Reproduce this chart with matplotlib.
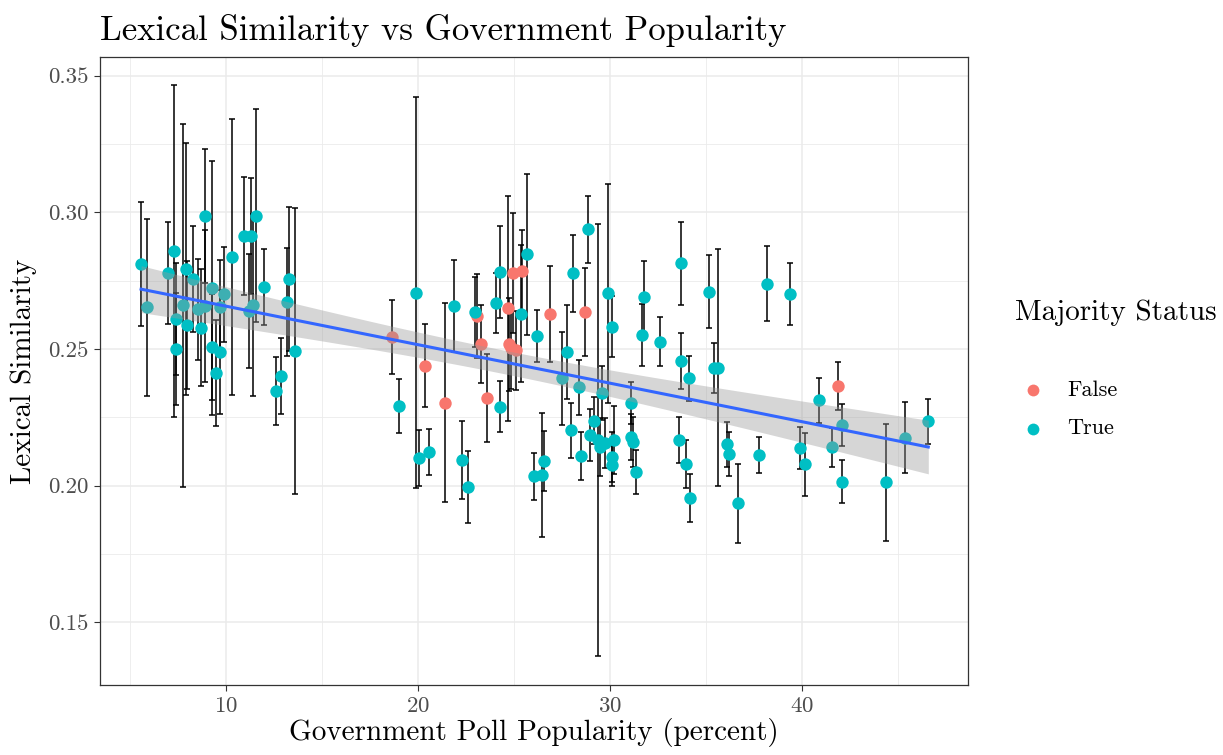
import numpy as np
import matplotlib
matplotlib.use("Agg")
import matplotlib.pyplot as plt
from matplotlib.ticker import MultipleLocator, FormatStrFormatter

plt.rcParams["font.family"] = ["cmr10", "DejaVu Serif"]
plt.rcParams["axes.formatter.use_mathtext"] = True

# poll popularity (percent), lexical similarity, error half-width, majority status
popularity = [
    5.57, 5.90, 6.99, 7.29, 7.38, 7.38, 7.77, 7.89, 7.98, 8.29,
    8.56, 8.68, 8.89, 8.89, 9.29, 9.29, 9.48, 9.69, 9.69, 9.90,
    10.29, 10.95, 11.30, 11.18, 11.39, 11.58, 11.98, 12.59, 12.88, 13.28,
    13.19, 13.60, 18.67, 19.00, 19.89, 20.07, 20.37, 20.58, 21.40, 21.88,
    22.28, 22.60, 22.99, 23.10, 23.29, 23.59, 24.09, 24.29, 24.29, 24.70,
    24.97, 25.41, 25.69, 25.39, 24.76, 24.84, 25.11, 26.19, 26.88, 26.07,
    26.45, 26.57, 27.49, 27.77, 28.10, 28.88, 28.69, 29.89, 30.10, 31.78,
    31.69, 32.60, 33.71, 33.69, 34.13, 28.40, 29.58, 31.09, 27.99, 28.48,
    29.19, 28.97, 29.40, 29.49, 29.75, 30.20, 30.10, 30.10, 31.09, 31.19,
    31.38, 33.59, 33.99, 34.19, 35.19, 38.18, 39.39, 35.45, 35.65, 36.09,
    36.20, 37.79, 36.68, 39.90, 40.19, 40.90, 41.89, 42.08, 41.59, 42.08,
    44.39, 45.38, 46.60,
]
similarity = [
    0.2811, 0.2653, 0.2778, 0.2858, 0.2610, 0.2499, 0.2660, 0.2794, 0.2588, 0.2757,
    0.2645, 0.2578, 0.2986, 0.2657, 0.2724, 0.2506, 0.2413, 0.2653, 0.2489, 0.2700,
    0.2836, 0.2913, 0.2913, 0.2639, 0.2660, 0.2988, 0.2726, 0.2345, 0.2400, 0.2757,
    0.2671, 0.2493, 0.2544, 0.2290, 0.2705, 0.2101, 0.2439, 0.2124, 0.2304, 0.2656,
    0.2094, 0.1996, 0.2636, 0.2621, 0.2519, 0.2321, 0.2668, 0.2783, 0.2289, 0.2649,
    0.2777, 0.2784, 0.2846, 0.2629, 0.2517, 0.2503, 0.2495, 0.2549, 0.2628, 0.2034,
    0.2039, 0.2090, 0.2393, 0.2488, 0.2777, 0.2938, 0.2635, 0.2704, 0.2582, 0.2691,
    0.2551, 0.2527, 0.2813, 0.2456, 0.2393, 0.2360, 0.2339, 0.2302, 0.2202, 0.2109,
    0.2238, 0.2187, 0.2167, 0.2140, 0.2157, 0.2168, 0.2106, 0.2076, 0.2179, 0.2161,
    0.2049, 0.2167, 0.2079, 0.1954, 0.2710, 0.2738, 0.2702, 0.2431, 0.2432, 0.2151,
    0.2116, 0.2112, 0.1936, 0.2139, 0.2078, 0.2312, 0.2365, 0.2223, 0.2140, 0.2015,
    0.2012, 0.2176, 0.2235,
]
error = [
    0.0227, 0.0324, 0.0187, 0.0607, 0.0205, 0.0205, 0.0664, 0.0461, 0.0234, 0.0194,
    0.0185, 0.0215, 0.0246, 0.0277, 0.0465, 0.0194, 0.0194, 0.0174, 0.0227, 0.0174,
    0.0504, 0.0217, 0.0212, 0.0207, 0.0332, 0.0389, 0.0139, 0.0124, 0.0139, 0.0263,
    0.0198, 0.0523, 0.0135, 0.0099, 0.0715, 0.0101, 0.0151, 0.0085, 0.0363, 0.0168,
    0.0142, 0.0131, 0.0128, 0.0153, 0.0142, 0.0160, 0.0109, 0.0168, 0.0093, 0.0411,
    0.0219, 0.0151, 0.0295, 0.0250, 0.0171, 0.0150, 0.0145, 0.0095, 0.0176, 0.0087,
    0.0226, 0.0110, 0.0171, 0.0172, 0.0140, 0.0122, 0.0162, 0.0400, 0.0113, 0.0132,
    0.0113, 0.0090, 0.0153, 0.0104, 0.0082, 0.0101, 0.0099, 0.0078, 0.0102, 0.0088,
    0.0086, 0.0095, 0.0789, 0.0106, 0.0091, 0.0124, 0.0091, 0.0077, 0.0084, 0.0091,
    0.0081, 0.0085, 0.0087, 0.0088, 0.0135, 0.0137, 0.0114, 0.0092, 0.0432, 0.0081,
    0.0080, 0.0066, 0.0145, 0.0077, 0.0116, 0.0082, 0.0089, 0.0076, 0.0072, 0.0080,
    0.0215, 0.0130, 0.0082,
]
red_idx = [32, 36, 38, 43, 44, 45, 49, 50, 51, 54, 55, 56, 58, 66, 106]
majority = [i not in red_idx for i in range(len(popularity))]

x = np.array(popularity)
y = np.array(similarity)
e = np.array(error)
maj = np.array(majority)

fig = plt.figure(figsize=(12.23, 7.55), dpi=100)
ax = fig.add_axes([0.0818, 0.0927, 0.7097, 0.8318])

ax.errorbar(x, y, yerr=e, fmt="none", ecolor="black", elinewidth=1.1,
            capsize=2.5, capthick=1.1, zorder=2)
ax.scatter(x[~maj], y[~maj], s=80, color="#F8766D", linewidths=0, zorder=3,
           label="False")
ax.scatter(x[maj], y[maj], s=80, color="#00BFC4", linewidths=0, zorder=3,
           label="True")

# linear fit with 95% confidence band
slope, intercept = np.polyfit(x, y, 1)
xs = np.linspace(x.min(), x.max(), 100)
fit = intercept + slope * xs
n = len(x)
resid = y - (intercept + slope * x)
s = np.sqrt(np.sum(resid ** 2) / (n - 2))
se = s * np.sqrt(1 / n + (xs - x.mean()) ** 2 / np.sum((x - x.mean()) ** 2))
t = 1.98
ax.fill_between(xs, fit - t * se, fit + t * se, color="#999999", alpha=0.4,
                linewidth=0, zorder=4)
ax.plot(xs, fit, color="#3366FF", linewidth=2.2, zorder=5)

ax.set_xlim(3.43, 48.67)
ax.set_ylim(0.1271, 0.3568)
ax.xaxis.set_major_locator(MultipleLocator(10))
ax.xaxis.set_minor_locator(MultipleLocator(5))
ax.yaxis.set_major_locator(MultipleLocator(0.05))
ax.yaxis.set_minor_locator(MultipleLocator(0.025))
ax.yaxis.set_major_formatter(FormatStrFormatter("%.2f"))
ax.grid(True, which="major", color="#EBEBEB", linewidth=1.1, zorder=0)
ax.grid(True, which="minor", color="#EBEBEB", linewidth=0.6, zorder=0)
ax.set_axisbelow(True)
for sp in ax.spines.values():
    sp.set_color("#333333")
    sp.set_linewidth(0.9)
ax.tick_params(which="major", length=4, color="#333333", labelsize=16.5,
               labelcolor="#4D4D4D", pad=4)
ax.tick_params(which="minor", length=0)

ax.set_xlabel("Government Poll Popularity (percent)", fontsize=21, labelpad=2)
ax.set_ylabel("Lexical Similarity", fontsize=21, labelpad=8)
ax.set_title("Lexical Similarity vs Government Popularity", fontsize=25,
             loc="left", pad=12)

leg = fig.legend(title="Majority Status", loc="upper left",
                 bbox_to_anchor=(0.830, 0.603), frameon=False, fontsize=16,
                 title_fontsize=21, markerscale=0.95, handlelength=1.6,
                 handletextpad=0.75, labelspacing=0.85, borderaxespad=0,
                 borderpad=0)
leg._legend_box.sep = 39
leg._legend_box.align = "left"

fig.savefig("out.png", dpi=100)
